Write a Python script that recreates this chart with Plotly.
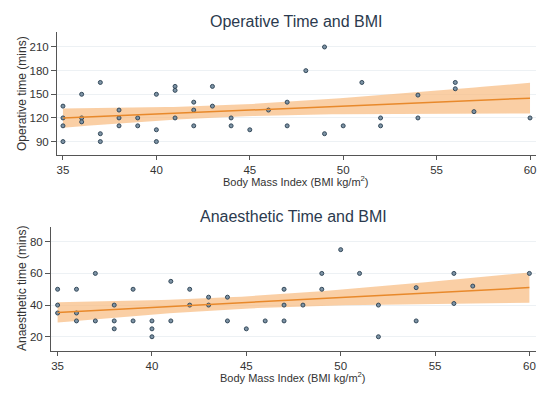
import numpy as np
import plotly.graph_objects as go

# Operative time vs BMI
op_bmi = [35, 35, 35, 35, 36, 36, 36, 37, 37, 37, 38, 38, 38, 39, 39,
          40, 40, 40, 41, 41, 41, 42, 42, 42, 43, 43, 44, 44, 45, 46,
          47, 47, 48, 49, 49, 50, 51, 52, 52, 54, 54, 56, 56, 57, 60]
op_time = [135, 120, 110, 90, 150, 120, 115, 165, 100, 90, 130, 120, 110, 120, 110,
           150, 105, 90, 160, 155, 120, 140, 130, 110, 160, 135, 120, 110, 105, 130,
           140, 110, 180, 210, 100, 110, 165, 120, 110, 149, 120, 165, 157, 128, 120]

# Anaesthetic time vs BMI
an_bmi = [35, 35, 35, 36, 36, 36, 37, 37, 38, 38, 38, 39, 39, 40, 40, 40,
          41, 41, 42, 42, 43, 43, 44, 44, 45, 46, 47, 47, 47, 48, 49, 49,
          50, 51, 52, 52, 54, 54, 56, 56, 57, 60]
an_time = [50, 40, 35, 50, 35, 30, 60, 30, 40, 30, 25, 50, 30, 30, 25, 20,
           55, 30, 50, 40, 45, 40, 45, 30, 25, 30, 50, 40, 30, 40, 60, 50,
           75, 60, 40, 20, 51, 30, 60, 41, 52, 60]

op_ticks = [90, 120, 150, 180, 210]
an_ticks = [20, 40, 60, 80]
x_ticks = [35, 40, 45, 50, 55, 60]

titles = ["Operative Time and BMI", "Anaesthetic Time and BMI"]
y_titles = ["Operative time (mins)", "Anaesthetic time (mins)"]
x_title = "Body Mass Index (BMI kg/m<sup>2</sup>)"


def fit_ci(x, y, t=2.02):
    x = np.asarray(x, float)
    y = np.asarray(y, float)
    n = len(x)
    b, a = np.polyfit(x, y, 1)
    resid = y - (a + b * x)
    s = np.sqrt(np.sum(resid ** 2) / (n - 2))
    xbar = x.mean()
    sxx = np.sum((x - xbar) ** 2)
    xs = np.linspace(x.min(), x.max(), 60)
    yh = a + b * xs
    se = s * np.sqrt(1.0 / n + (xs - xbar) ** 2 / sxx)
    return xs, yh, yh - t * se, yh + t * se


fig = go.Figure()

band_col = "rgba(248,188,130,0.72)"
line_col = "#e8892b"
mk = dict(size=4, color="#7d93a5", line=dict(color="#34495a", width=1))

for i, (x, y) in enumerate([(op_bmi, op_time), (an_bmi, an_time)]):
    xa = "x" if i == 0 else "x2"
    ya = "y" if i == 0 else "y2"
    xs, yh, lo, hi = fit_ci(x, y)
    fig.add_trace(go.Scatter(x=list(xs) + list(xs[::-1]), y=list(hi) + list(lo[::-1]),
                             fill="toself", fillcolor=band_col, line=dict(width=0),
                             mode="lines", hoverinfo="skip", showlegend=False,
                             xaxis=xa, yaxis=ya))
    fig.add_trace(go.Scatter(x=x, y=y, mode="markers", marker=mk, showlegend=False,
                             xaxis=xa, yaxis=ya))
    fig.add_trace(go.Scatter(x=xs, y=yh, mode="lines", line=dict(color=line_col, width=1.5),
                             showlegend=False, xaxis=xa, yaxis=ya))

W, H = 550, 395
font = "Liberation Sans, Arial, sans-serif"
axis_common = dict(showline=True, linecolor="#555555", linewidth=1, ticks="outside",
                   tickcolor="#555555", tickfont=dict(size=11.5, color="#333333"),
                   zeroline=False)

fig.update_layout(
    width=W, height=H, margin=dict(l=0, r=0, t=0, b=0),
    paper_bgcolor="white", plot_bgcolor="white",
    font=dict(family=font),
    xaxis=dict(domain=[57 / W, 536 / W], range=[34.68, 60.32], tickvals=x_ticks,
               showgrid=False, anchor="y", ticklen=4, **axis_common),
    yaxis=dict(domain=[1 - 155 / H, 1 - 32 / H], range=[73, 229], tickvals=op_ticks,
               showgrid=True, gridcolor="#edf1f4", anchor="x", ticklen=5, **axis_common),
    xaxis2=dict(domain=[51 / W, 536 / W], range=[34.65, 60.35], tickvals=x_ticks,
                showgrid=False, anchor="y2", ticklen=4, **axis_common),
    yaxis2=dict(domain=[1 - 350.7 / H, 1 - 227 / H], range=[11.2, 89.3], tickvals=an_ticks,
                showgrid=True, gridcolor="#edf1f4", anchor="x2", ticklen=5, **axis_common),
)

ann = []
title_pos = [(296, 22), (293, 216)]
xt_pos = [(296, 181), (293, 377)]
yt_pos = [(22, 94), (22, 289)]
for i in range(2):
    ann.append(dict(text=titles[i], x=title_pos[i][0] / W, y=1 - title_pos[i][1] / H,
                    xref="paper", yref="paper", showarrow=False,
                    font=dict(size=16, color="#2b3a4e"), xanchor="center", yanchor="middle"))
    ann.append(dict(text=x_title, x=xt_pos[i][0] / W, y=1 - xt_pos[i][1] / H,
                    xref="paper", yref="paper", showarrow=False,
                    font=dict(size=11, color="#333333"), xanchor="center", yanchor="middle"))
    ann.append(dict(text=y_titles[i], x=yt_pos[i][0] / W, y=1 - yt_pos[i][1] / H,
                    xref="paper", yref="paper", showarrow=False, textangle=-90,
                    font=dict(size=12, color="#333333"), xanchor="center", yanchor="middle"))
fig.update_layout(annotations=ann)

fig.write_html("out.html", config={"displayModeBar": False},
               post_script="document.body.style.margin='0';document.body.style.overflow='hidden';")
